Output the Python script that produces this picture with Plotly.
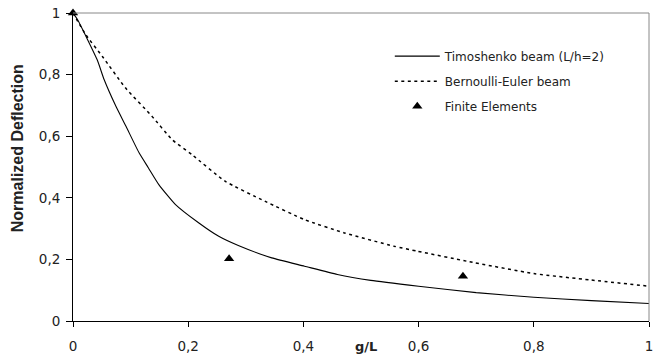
import plotly.graph_objects as go

# Data
timo_x = [0, 0.008, 0.042, 0.054, 0.0745, 0.092, 0.1147, 0.131, 0.149, 0.178, 0.218, 0.253,
          0.287, 0.345, 0.402, 0.459, 0.517, 0.6, 0.7, 0.8, 0.9, 1.0]
timo_y = [1, 0.978, 0.848, 0.784, 0.697, 0.632, 0.546, 0.497, 0.443, 0.378, 0.319, 0.275,
          0.245, 0.205, 0.178, 0.151, 0.132, 0.113, 0.092, 0.077, 0.066, 0.057]

be_x = [0, 0.022, 0.051, 0.091, 0.137, 0.172, 0.2066, 0.264, 0.333, 0.402, 0.471, 0.557,
        0.597, 0.684, 0.8, 0.9, 1.0]
be_y = [1, 0.93, 0.859, 0.757, 0.665, 0.589, 0.540, 0.454, 0.389, 0.329, 0.286, 0.243,
        0.227, 0.194, 0.154, 0.133, 0.113]

fe_x = [0, 0.271, 0.677]
fe_y = [1, 0.202, 0.145]

x_ticks = [0, 0.2, 0.4, 0.6, 0.8, 1]
x_labels = ["0", "0,2", "0,4", "0,6", "0,8", "1"]
y_ticks = [0, 0.2, 0.4, 0.6, 0.8, 1]
y_labels = ["0", "0,2", "0,4", "0,6", "0,8", "1"]

FONT = "DejaVu Sans, Liberation Sans, sans-serif"
BOLD_FONT = "Liberation Sans, Arial, sans-serif"

fig = go.Figure()
fig.add_trace(go.Scatter(x=timo_x, y=timo_y, mode="lines", name="Timoshenko beam (L/h=2)",
                         line=dict(color="black", width=1.1, shape="spline", smoothing=0.5),
                         legendgroup="a"))
fig.add_trace(go.Scatter(x=be_x, y=be_y, mode="lines", name="Bernoulli-Euler beam",
                         line=dict(color="black", width=1.5, dash="3px,3.5px",
                                   shape="spline", smoothing=0.5),
                         legendgroup="b"))
fig.add_trace(go.Scatter(x=fe_x, y=fe_y, mode="markers", name="Finite Elements",
                         marker=dict(symbol="triangle-up", size=9, color="black"),
                         cliponaxis=False, legendgroup="c"))

fig.update_layout(
    width=655, height=357,
    margin=dict(l=73, r=2, t=13, b=36),
    paper_bgcolor="white", plot_bgcolor="white",
    font=dict(family=FONT, size=13, color="#222"),
    showlegend=True,
    legend=dict(x=0.55, y=0.907, xanchor="left", yanchor="top",
                font=dict(size=12, color="#222"), tracegroupgap=6, itemwidth=45,
                bgcolor="rgba(0,0,0,0)", traceorder="grouped"),
    xaxis=dict(range=[0, 1], tickvals=x_ticks, ticktext=x_labels, showgrid=False,
               zeroline=False, showline=True, linecolor="black", linewidth=1,
               ticks="outside", ticklen=5, tickcolor="black", ticklabelstandoff=8,
               ticklabeloverflow="allow", tickfont=dict(size=13.5)),
    yaxis=dict(range=[0, 1], tickvals=y_ticks, ticktext=y_labels, showgrid=False,
               zeroline=False, showline=True, linecolor="black", linewidth=1,
               ticks="outside", ticklen=6, tickcolor="black", ticklabelstandoff=3,
               tickfont=dict(size=13.5)),
    shapes=[
        dict(type="line", xref="paper", yref="paper", x0=0, x1=1, y0=1, y1=1,
             line=dict(color="#888", width=1)),
        dict(type="line", xref="paper", yref="paper", x0=1, x1=1, y0=0, y1=1,
             line=dict(color="#888", width=1)),
    ],
    annotations=[
        dict(text="<b>g/L</b>", xref="paper", yref="paper", x=0.508, y=-0.083,
             xanchor="center", yanchor="middle", showarrow=False,
             font=dict(family=FONT, size=13, color="#222")),
        dict(text="<b>Normalized Deflection</b>", xref="paper", yref="paper",
             x=-0.096, y=0.56, xanchor="center", yanchor="middle", textangle=-90,
             showarrow=False, font=dict(family=BOLD_FONT, size=16, color="#222")),
    ],
)

fig.write_html("out.html", config={"displayModeBar": False},
               post_script="document.body.style.margin='0';document.body.style.overflow='hidden';")
